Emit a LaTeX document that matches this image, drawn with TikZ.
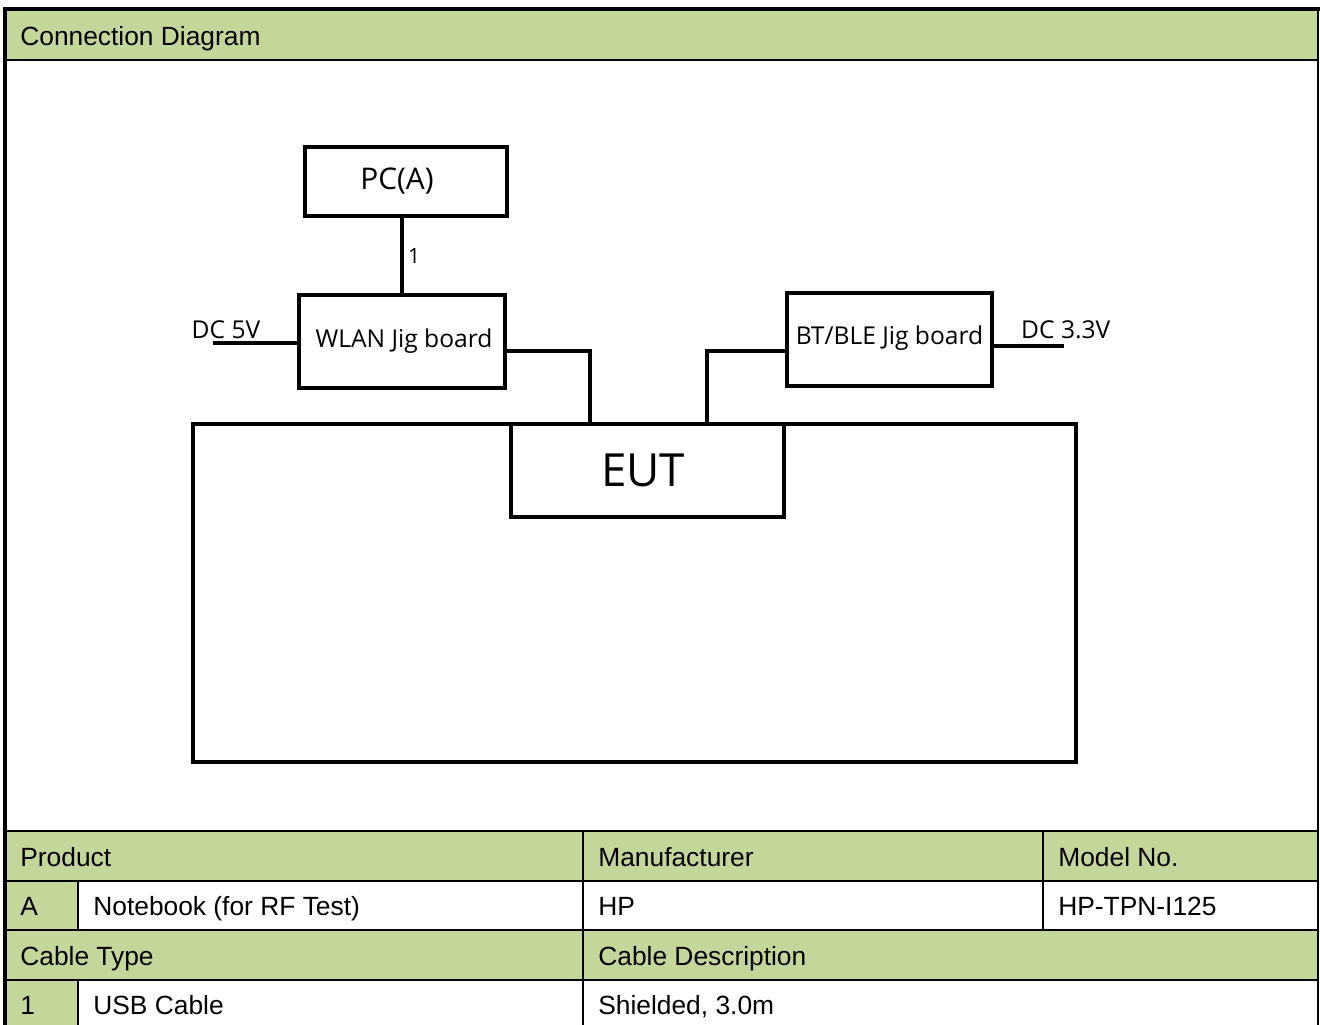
\documentclass[tikz,border=0pt]{standalone}
\usepackage{fontspec}
\setmainfont{Liberation Sans}
\newfontfamily\diagfont{Open Sans}
\usepackage{tikz}
\usetikzlibrary{positioning,calc}

\definecolor{hdrgreen}{RGB}{196,215,155}

\tikzset{
  box/.style={draw,line width=2.2pt,font=\diagfont,inner sep=0pt},
  wire/.style={line width=2.2pt},
  celltext/.style={anchor=base west,font=\fontsize{15}{18}\selectfont,inner sep=0pt},
  rule/.style={line width=0.9pt},
}

\begin{document}
\begin{tikzpicture}[x=0.02cm,y=-0.02cm]
  \useasboundingbox (0,0) rectangle (1320,1025);

  % header and table fills
  \fill[hdrgreen] (5,10) rectangle (1318,60);
  \fill[hdrgreen] (5,831) rectangle (1318,881);
  \fill[hdrgreen] (5,881) rectangle (78,930);
  \fill[hdrgreen] (5,930) rectangle (1318,980);
  \fill[hdrgreen] (5,980) rectangle (78,1025);

  % table rules
  \draw[rule] (5,60) -- (1318,60);
  \draw[rule] (5,831) -- (1318,831);
  \draw[rule] (5,881) -- (1318,881);
  \draw[rule] (5,930) -- (1318,930);
  \draw[rule] (5,980) -- (1318,980);
  \draw[rule] (78,881) -- (78,930);
  \draw[rule] (78,980) -- (78,1025);
  \draw[rule] (583,831) -- (583,1025);
  \draw[rule] (1043,831) -- (1043,930);

  % outer frame
  \draw[line width=2.4pt] (5,1025) -- (5,9) -- (1320,9);
  \draw[line width=1.4pt] (1318,9) -- (1318,1025);

  % table texts
  \node[celltext] (title) at (20,45.5) {Connection Diagram};
  \node[celltext] (hProd) at (20,866.5) {Product};
  \node[celltext] (hMan) at (598,866.5) {Manufacturer};
  \node[celltext] (hModel) at (1058,866.5) {Model No.};
  \node[celltext] (idA) at (20,915.5) {A};
  \node[celltext] (prodA) at (93,915.5) {Notebook (for RF Test)};
  \node[celltext] (manA) at (598,915.5) {HP};
  \node[celltext] (modelA) at (1058,915.5) {HP-TPN-I125};
  \node[celltext] (hCable) at (20,965.5) {Cable Type};
  \node[celltext] (hDesc) at (598,965.5) {Cable Description};
  \node[celltext] (id1) at (20,1014.5) {1};
  \node[celltext] (cable1) at (93,1014.5) {USB Cable};
  \node[celltext] (desc1) at (598,1014.5) {Shielded, 3.0m};

  % diagram
  \node[box,minimum width=4.04cm,minimum height=1.38cm,font=\diagfont\fontsize{17}{20}\selectfont] (pc) at (406,181.5) {\hspace*{-0.36cm}PC(A)};
  \node[box,minimum width=4.12cm,minimum height=1.86cm,font=\diagfont\fontsize{14}{17}\selectfont] (wlan) at (402,341.5) {\hspace*{0.08cm}WLAN Jig board};
  \node[box,minimum width=4.10cm,minimum height=1.86cm,font=\diagfont\fontsize{14}{17}\selectfont] (bt) at (889.5,339.5) {\raisebox{5pt}{BT/BLE Jig board}};
  \node[box,minimum width=17.66cm,minimum height=6.76cm] (frame) at (634.5,593) {};
  \node[box,minimum width=5.46cm,minimum height=1.86cm,font=\diagfont\fontsize{26}{30}\selectfont] (eut) at (647.5,470.5) {\hspace*{-0.18cm}EUT};

  \coordinate (dc5) at (213,343);
  \coordinate (dc33) at (1064,346);

  \draw[wire] (wlan.north) -- (wlan.north |- pc.south)
    node[midway,right,font=\diagfont\fontsize{12}{14}\selectfont,xshift=-1pt] {1};
  \draw[wire] (dc5) -- (dc5 -| wlan.west);
  \draw[wire] (dc33) -- (dc33 -| bt.east);
  \draw[wire] ([yshift=-0.19cm]wlan.east) -| ([xshift=-1.15cm]eut.north);
  \draw[wire] ([yshift=-0.23cm]bt.west) -| ([xshift=1.19cm]eut.north);

  \node[font=\diagfont\fontsize{14}{17}\selectfont] (lbl5) at (226,330) {DC 5V};
  \node[font=\diagfont\fontsize{14}{17}\selectfont,anchor=west] (lbl33) at (1015,330) {DC 3.3V};
\end{tikzpicture}
\end{document}
